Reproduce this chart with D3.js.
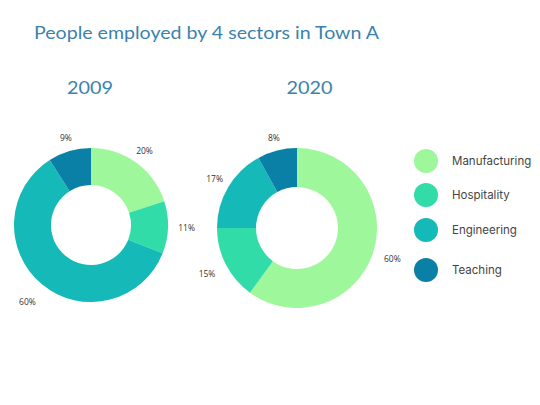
<!DOCTYPE html>
<html><head><meta charset="utf-8">
<script src="https://cdn.jsdelivr.net/npm/d3@7"></script>
<style>body{margin:0;background:#fff}svg{display:block}</style>
</head><body>
<svg id="c" width="540" height="405"></svg>
<script>
const sectors = ["Manufacturing", "Hospitality", "Engineering", "Teaching"];
const years = ["2009", "2020"];
const values2009 = [20, 11, 60, 9];
const values2020 = [60, 15, 17, 8];
const colors = ["#9ef79b", "#31dca9", "#15b9b7", "#0b80a7"];
const titleText = "People employed by 4 sectors in Town A";

const svg = d3.select("#c");
const W = 540, H = 405;
svg.append("rect").attr("width", W).attr("height", H).attr("fill", "#fff");

svg.append("text").attr("x", 34).attr("y", 39)
  .attr("font-family", "Lato, 'Noto Sans', sans-serif").attr("font-size", 17)
  .attr("textLength", 345).attr("lengthAdjust", "spacingAndGlyphs")
  .attr("fill", "#3a82ad").text(titleText);

const color = d3.scaleOrdinal().domain(sectors).range(colors);
const pie = d3.pie().sort(null).value(d => d.v);

const charts = [
  {year: years[0], vals: values2009, cx: 91, cy: 225, R: 77, r: 40, tx: 90},
  {year: years[1], vals: values2020, cx: 297, cy: 228, R: 80, r: 41, tx: 309.5}
];

charts.forEach(c => {
  svg.append("text").attr("x", c.tx).attr("y", 94).attr("text-anchor", "middle")
    .attr("font-family", "Lato, 'Noto Sans', sans-serif").attr("font-size", 17.5)
    .attr("textLength", 46).attr("lengthAdjust", "spacingAndGlyphs")
    .attr("fill", "#3a82ad").text(c.year);
  const arc = d3.arc().innerRadius(c.r).outerRadius(c.R);
  const g = svg.append("g").attr("transform", `translate(${c.cx},${c.cy})`);
  const data = pie(sectors.map((s, i) => ({s, v: c.vals[i]})));
  g.selectAll("path").data(data).join("path")
    .attr("d", arc).attr("fill", d => color(d.data.s));
  g.selectAll("text").data(data).join("text")
    .attr("transform", d => {
      const a = (d.startAngle + d.endAngle) / 2;
      const lr = c.R + 13 + 5.5 * (1 - Math.cos(a));
      return `translate(${lr * Math.sin(a)},${-lr * Math.cos(a)})`;
    })
    .attr("text-anchor", "middle").attr("dy", "0.35em")
    .attr("font-family", "'Open Sans', 'Noto Sans', sans-serif").attr("font-size", 8.5)
    .attr("fill", "#333").text(d => d.data.v + "%");
});

// legend
const legYs = [161, 195, 230, 270];
const leg = svg.append("g");
sectors.forEach((s, i) => {
  leg.append("circle").attr("cx", 426).attr("cy", legYs[i]).attr("r", 12).attr("fill", color(s));
  leg.append("text").attr("x", 452).attr("y", legYs[i]).attr("dy", "0.35em")
    .attr("font-family", "Inter, 'Noto Sans', sans-serif").attr("font-size", 11.5)
    .attr("fill", "#444").text(s);
});
</script>
</body></html>
